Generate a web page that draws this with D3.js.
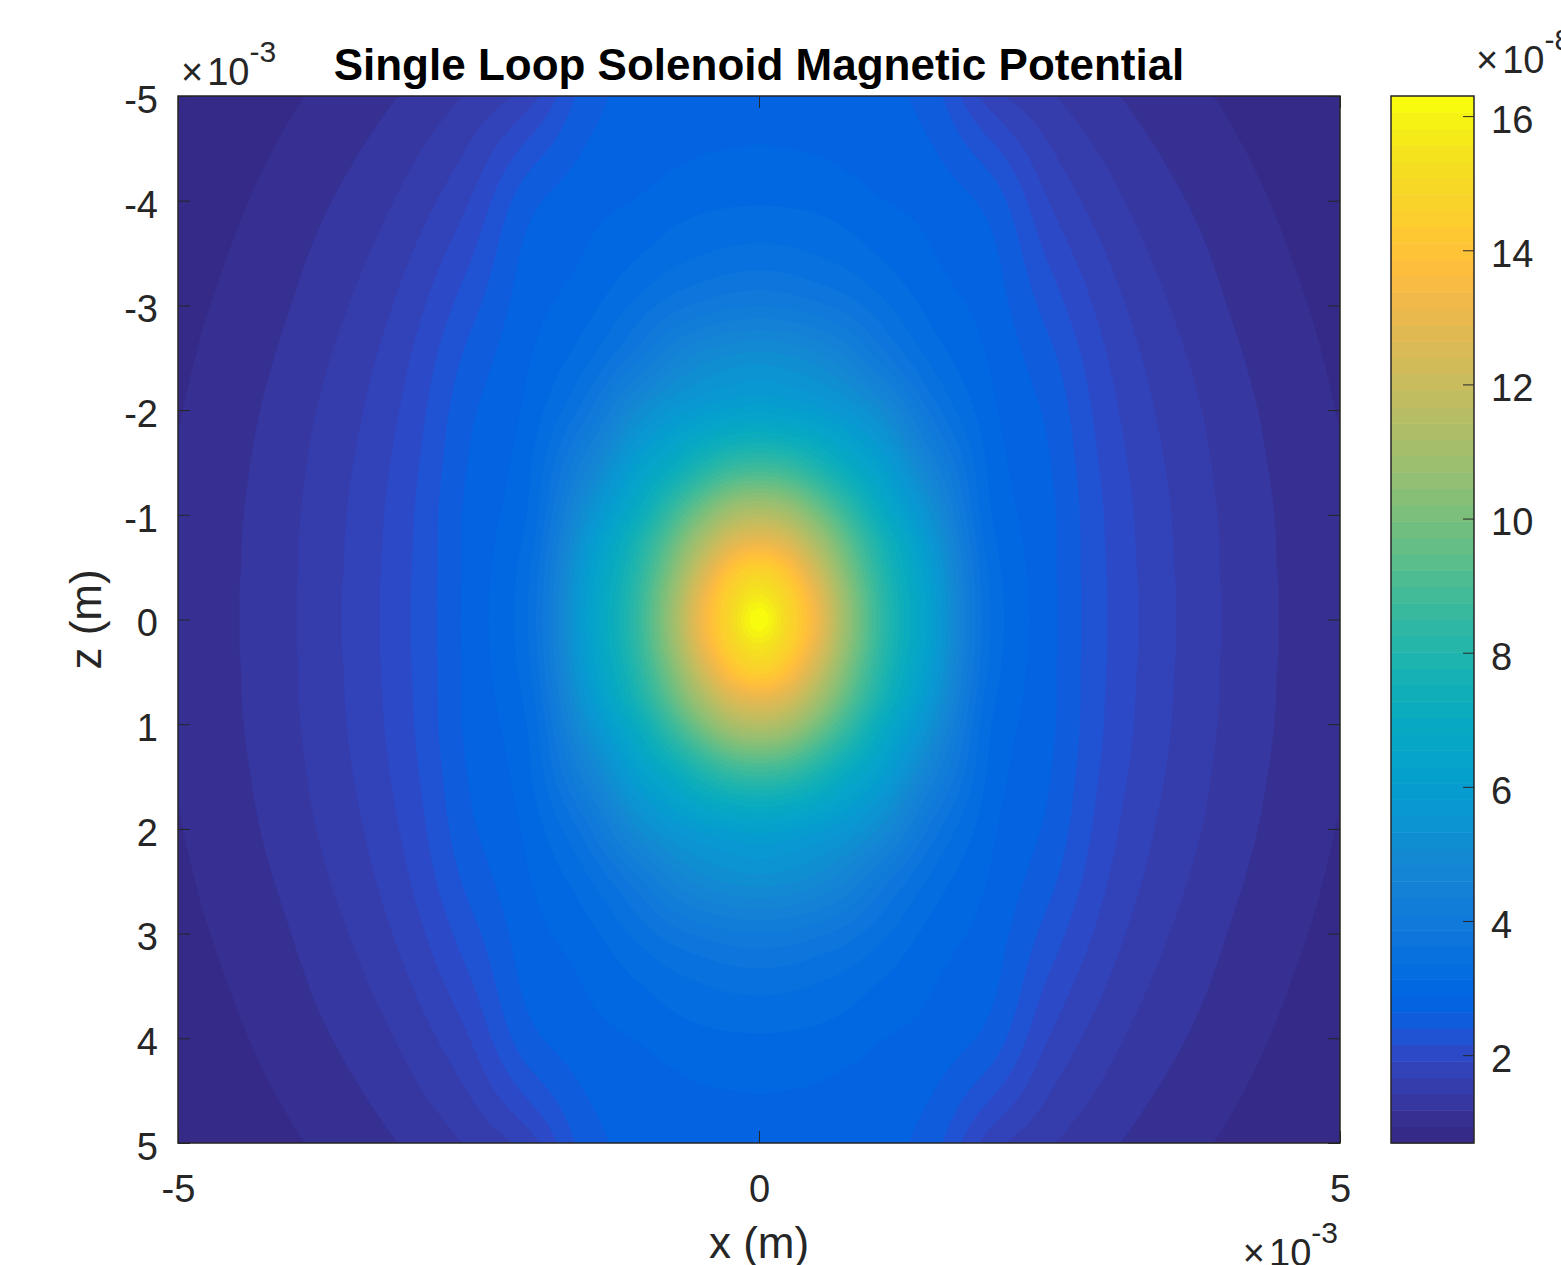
<!DOCTYPE html>
<html>
<head>
<meta charset="utf-8">
<script src="https://cdn.jsdelivr.net/npm/d3@7"></script>
<style>
body { margin: 0; background: #fff; }
svg text { font-family: "Liberation Sans", Arial, Helvetica, sans-serif; fill: #262626; }
</style>
</head>
<body>
<div id="chart-area"></div>
<script>
// grid nodes (x10^-3 m) for the x >= 0, z >= 0 quarter, the plot is mirrored about both axes
var xNodes = [0, 0.25, 0.5, 0.75, 1, 1.5, 2, 2.5, 3, 4, 5];
var zNodes = [0, 0.25, 0.5, 0.75, 1, 1.5, 2, 2.5, 3, 4, 5];

// potential (x10^-8), one row per z node, columns follow xNodes
var rowZ0_00 = [16.3, 14.9, 13.2, 10.8, 8.8, 6.0, 3.35, 2.72, 2.15, 1.41, 0.98];
var rowZ0_25 = [15.5, 14.6, 12.9, 10.6, 8.7, 5.95, 3.33, 2.72, 2.15, 1.41, 0.98];
var rowZ0_50 = [14.5, 13.8, 12.1, 10.1, 8.4, 5.8, 3.28, 2.71, 2.14, 1.40, 0.98];
var rowZ0_75 = [13.0, 12.5, 11.1, 9.5, 8.0, 5.55, 3.2, 2.71, 2.13, 1.40, 0.97];
var rowZ1_00 = [11.5, 11.1, 10.0, 8.7, 7.35, 5.2, 3.13, 2.70, 2.12, 1.39, 0.97];
var rowZ1_50 = [8.5, 8.3, 7.7, 6.9, 6.2, 4.45, 3.05, 2.65, 2.07, 1.36, 0.95];
var rowZ2_00 = [6.2, 6.1, 5.9, 5.6, 5.15, 3.75, 2.94, 2.58, 2.0, 1.32, 0.92];
var rowZ2_50 = [5.2, 5.13, 4.94, 4.6, 4.1, 3.29, 2.85, 2.46, 1.91, 1.26, 0.89];
var rowZ3_00 = [4.1, 4.05, 3.92, 3.75, 3.5, 3.03, 2.77, 2.29, 1.79, 1.19, 0.86];
var rowZ4_00 = [3.1, 3.09, 3.06, 3.0, 2.91, 2.79, 2.54, 1.9, 1.51, 1.06, 0.78];
var rowZ5_00 = [2.8, 2.79, 2.78, 2.75, 2.73, 2.49, 1.77, 1.45, 1.22, 0.91, 0.69];
var quarter = [rowZ0_00, rowZ0_25, rowZ0_50, rowZ0_75, rowZ1_00, rowZ1_50,
               rowZ2_00, rowZ2_50, rowZ3_00, rowZ4_00, rowZ5_00];

var zTicks = [-5, -4, -3, -2, -1, 0, 1, 2, 3, 4, 5];
var xTicks = [-5, 0, 5];
var colorTicks = [2, 4, 6, 8, 10, 12, 14, 16];

// MATLAB parula, 64 entries
var parula = ["#352a87","#363093","#3637a0","#353dad","#3243ba","#2c4ac7","#2053d4","#0f5cdd",
    "#0363e1","#0268e1","#046de0","#0871de","#0d75dc","#1079da","#127dd8","#1481d6",
    "#1485d4","#1389d3","#108ed2","#0c93d2","#0998d1","#079ccf","#06a0cd","#06a4ca",
    "#06a7c6","#07a9c2","#0aacbe","#0faeb9","#15b1b4","#1db3af","#25b5a9","#2eb7a4",
    "#38b99e","#42bb98","#4dbc92","#59bd8c","#65be86","#71bf80","#7cbf7b","#87bf77",
    "#92bf73","#9cbf6f","#a5be6b","#aebe67","#b7bd64","#c0bc60","#c8bc5d","#d1bb59",
    "#d9ba56","#e1b952","#e9b94e","#f1b94a","#f8bb44","#fdbe3d","#ffc337","#fec832",
    "#fcce2e","#fad32a","#f7d826","#f5de21","#f5e41d","#f5eb18","#f6f313","#f9fb0e"];

var plotLeft = 178, plotTop = 96, plotWidth = 1162, plotHeight = 1047;
var cbLeft = 1391, cbWidth = 83;

var svg = d3.select("#chart-area")
    .append("svg")
    .attr("width", 1561)
    .attr("height", 1265);

var x = d3.scaleLinear().domain([-5, 5]).range([plotLeft, plotLeft + plotWidth]);
var y = d3.scaleLinear().domain([-5, 5]).range([plotTop, plotTop + plotHeight]);

// mirror the quarter onto the full plane
function mirrorNodes(n) {
    return n.slice(1).reverse().map(function(d) { return -d; }).concat(n);
}
function mirrorVals(v) {
    return v.slice(1).reverse().concat(v);
}
var fullX = mirrorNodes(xNodes);
var fullZ = mirrorNodes(zNodes);
var fullRows = mirrorVals(quarter.map(mirrorVals));

// monotone cubic through the nodes (same slopes as d3.curveMonotoneX)
function monotone(xs, ys) {
    var n = xs.length, m = new Array(n);
    for (var i = 1; i < n - 1; i++) {
        var h0 = xs[i] - xs[i - 1], h1 = xs[i + 1] - xs[i];
        var s0 = (ys[i] - ys[i - 1]) / h0, s1 = (ys[i + 1] - ys[i]) / h1;
        var p = (s0 * h1 + s1 * h0) / (h0 + h1);
        m[i] = (Math.sign(s0) + Math.sign(s1)) * Math.min(Math.abs(s0), Math.abs(s1), 0.5 * Math.abs(p)) || 0;
    }
    var h = xs[1] - xs[0];
    m[0] = (3 * (ys[1] - ys[0]) / h - m[1]) / 2;
    h = xs[n - 1] - xs[n - 2];
    m[n - 1] = (3 * (ys[n - 1] - ys[n - 2]) / h - m[n - 2]) / 2;
    var bisect = d3.bisector(function(d) { return d; }).right;
    return function(v) {
        var i = Math.max(0, Math.min(n - 2, bisect(xs, v) - 1));
        var h = xs[i + 1] - xs[i], t = (v - xs[i]) / h, t2 = t * t, t3 = t2 * t;
        return (2 * t3 - 3 * t2 + 1) * ys[i] + (t3 - 2 * t2 + t) * h * m[i]
            + (-2 * t3 + 3 * t2) * ys[i + 1] + (t3 - t2) * h * m[i + 1];
    };
}

var nx = 360, nz = 324, dx = 10 / nx, dz = 10 / nz;
var xs = d3.range(nx).map(function(i) { return -5 + (i + 0.5) * dx; });
var zs = d3.range(nz).map(function(j) { return -5 + (j + 0.5) * dz; });

var rowSamples = fullRows.map(function(r) { return xs.map(monotone(fullX, r)); });
var grid = new Float64Array(nx * nz);
for (var i = 0; i < nx; i++) {
    var f = monotone(fullZ, rowSamples.map(function(r) { return r[i]; }));
    for (var j = 0; j < nz; j++) grid[j * nx + i] = f(zs[j]);
}

var vmin = d3.min(quarter, function(r) { return d3.min(r); });
var vmax = d3.max(quarter, function(r) { return d3.max(r); });
var step = (vmax - vmin) / parula.length;
var levels = d3.range(parula.length).map(function(k) { return vmin + k * step; });

var contours = d3.contours().size([nx, nz]).thresholds(levels)(grid);

var proj = d3.geoTransform({
    point: function(px, py) { this.stream.point(x(-5 + px * dx), y(-5 + py * dz)); }
});
var path = d3.geoPath(proj);

svg.append("clipPath").attr("id", "plot-clip")
    .append("rect")
    .attr("x", plotLeft).attr("y", plotTop).attr("width", plotWidth).attr("height", plotHeight);

var plot = svg.append("g").attr("clip-path", "url(#plot-clip)");
plot.append("rect")
    .attr("x", plotLeft).attr("y", plotTop).attr("width", plotWidth).attr("height", plotHeight)
    .attr("fill", parula[0]);
plot.selectAll("path.band")
    .data(contours)
    .enter().append("path")
    .attr("class", "band")
    .attr("d", path)
    .attr("fill", function(d, k) { return parula[k]; });

// axes, ticks point inward like MATLAB
function styleAxis(g) {
    g.select(".domain").remove();
    g.selectAll(".tick line").attr("stroke", "#262626");
    g.attr("font-size", 38).attr("font-family", null);
    g.selectAll("text").attr("fill", "#262626");
}

svg.append("g")
    .attr("transform", "translate(" + plotLeft + ",0)")
    .call(d3.axisLeft(y).tickValues(zTicks).tickSize(-12).tickPadding(20).tickFormat(String))
    .call(styleAxis)
    .selectAll("text").attr("dy", "0.43em");

svg.append("g")
    .attr("transform", "translate(" + (plotLeft + plotWidth) + ",0)")
    .call(d3.axisRight(y).tickValues(zTicks).tickSize(-12).tickFormat(""))
    .call(styleAxis);

svg.append("g")
    .attr("transform", "translate(0," + (plotTop + plotHeight) + ")")
    .call(d3.axisBottom(x).tickValues(xTicks).tickSize(-12).tickPadding(32).tickFormat(String))
    .call(styleAxis);

svg.append("g")
    .attr("transform", "translate(0," + plotTop + ")")
    .call(d3.axisTop(x).tickValues(xTicks).tickSize(-12).tickFormat(""))
    .call(styleAxis);

svg.append("rect")
    .attr("x", plotLeft).attr("y", plotTop).attr("width", plotWidth).attr("height", plotHeight)
    .attr("fill", "none").attr("stroke", "#262626").attr("stroke-width", 1.5);

// colorbar
var cbY = d3.scaleLinear().domain([vmin, vmax]).range([plotTop + plotHeight, plotTop]);
svg.append("g").selectAll("rect")
    .data(parula)
    .enter().append("rect")
    .attr("x", cbLeft)
    .attr("width", cbWidth)
    .attr("y", function(c, k) { return cbY(vmin + (k + 1) * step); })
    .attr("height", function(c, k) { return cbY(vmin + k * step) - cbY(vmin + (k + 1) * step) + 0.5; })
    .attr("fill", function(c) { return c; });

svg.append("g")
    .attr("transform", "translate(" + (cbLeft + cbWidth) + ",0)")
    .call(d3.axisRight(cbY).tickValues(colorTicks).tickSize(-11).tickPadding(17).tickFormat(String))
    .call(styleAxis)
    .selectAll("text").attr("dy", "0.43em");

svg.append("rect")
    .attr("x", cbLeft).attr("y", plotTop).attr("width", cbWidth).attr("height", plotHeight)
    .attr("fill", "none").attr("stroke", "#262626").attr("stroke-width", 1.5);

// labels
svg.append("text")
    .attr("x", plotLeft + plotWidth / 2)
    .attr("y", 80)
    .attr("text-anchor", "middle")
    .attr("font-size", 44)
    .attr("font-weight", "bold")
    .style("fill", "#000")
    .text("Single Loop Solenoid Magnetic Potential");

svg.append("text")
    .attr("x", plotLeft + plotWidth / 2)
    .attr("y", 1258)
    .attr("text-anchor", "middle")
    .attr("font-size", 44)
    .text("x (m)");

svg.append("text")
    .attr("transform", "translate(101," + (plotTop + plotHeight / 2) + ") rotate(-90)")
    .attr("text-anchor", "middle")
    .attr("font-size", 44)
    .text("z (m)");

function exponent(xPos, yPos, power, anchor) {
    var t = svg.append("text")
        .attr("x", xPos)
        .attr("y", yPos)
        .attr("text-anchor", anchor)
        .attr("font-size", 38);
    t.append("tspan").text("\u00d7");
    t.append("tspan").attr("dx", 4).text("10");
    t.append("tspan").attr("dy", -23).attr("font-size", 30).text(power);
}
exponent(181, 85, "-3", "start");
exponent(1338, 1266, "-3", "end");
exponent(1476, 73, "-8", "start");
</script>
</body>
</html>
